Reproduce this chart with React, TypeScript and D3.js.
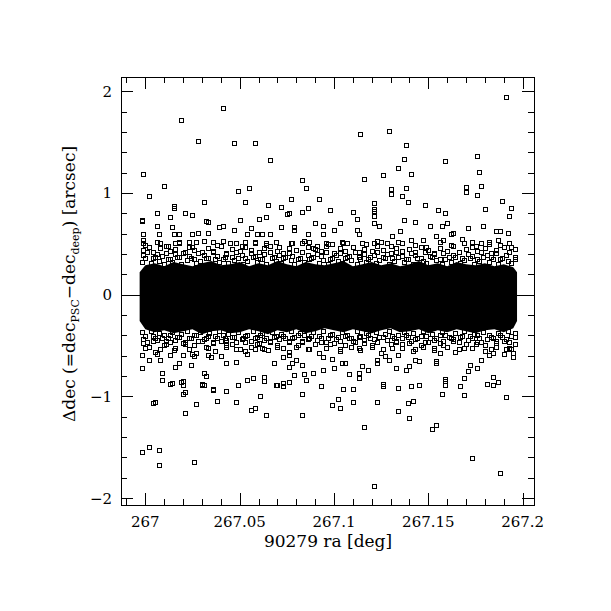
import { useMemo } from "react";
import * as d3 from "d3";

// ra is stored as offset from 267 deg in units of 0.001 deg,
// Δdec in units of 0.01 arcsec
const RA0 = 267;

// solid centre of the cloud, upper / lower edge per ra bin
const coreRa = [-3, 0, 5, 10, 15, 20, 25, 30, 35, 40, 45, 50, 55, 60, 65, 70, 75, 80, 85, 90, 95, 100, 105, 110, 115, 120, 125, 130, 135, 140, 145, 150, 155, 160, 165, 170, 175, 180, 185, 190, 195, 197];
const coreUpper = [22, 29, 31, 28, 32, 30, 28, 31, 33, 29, 30, 32, 28, 31, 29, 33, 30, 28, 32, 30, 29, 31, 33, 28, 30, 32, 29, 31, 28, 30, 33, 29, 31, 28, 32, 30, 29, 31, 28, 30, 27, 22];
const coreLower = [-26, -34, -37, -35, -38, -36, -34, -39, -36, -35, -38, -37, -34, -36, -39, -35, -37, -34, -38, -36, -33, -35, -37, -34, -36, -38, -35, -33, -37, -36, -34, -38, -35, -37, -34, -36, -38, -35, -34, -37, -33, -26];

const fringeTop: [number, number][] = [
  [-2,32],[0,36],[3,31],[5,37],[7,33],[10,30],[12,35],[14,32],[17,37],[19,30],[22,34],[24,36],[27,31],[29,33],[32,36],[34,30],[37,35],[39,32],[42,37],[44,31],[47,34],[49,36],[52,30],[54,33],[57,37],[59,32],[62,35],[64,30],[67,36],[69,33],[72,31],[74,37],[77,34],[79,30],[82,36],[84,32],[87,35],[89,37],[92,31],[94,34],[97,30],[99,36],[102,33],[104,31],[107,37],[109,34],[112,30],[114,35],[117,32],[119,37],[122,31],[124,34],[127,36],[129,30],[132,33],[134,37],[137,32],[139,35],[142,30],[144,36],[147,33],[149,31],[152,37],[154,34],[157,30],[159,35],[162,32],[164,37],[167,31],[169,34],[172,36],[174,30],[177,33],[179,37],[182,32],[184,35],[187,30],[189,36],[192,33],[194,31],[196,35],
  [-1,39],[1,42],[4,36],[6,40],[9,38],[11,41],[13,35],[16,40],[18,37],[21,42],[23,38],[26,35],[28,41],[31,39],[33,36],[36,42],[38,38],[41,35],[43,40],[46,37],[48,42],[51,39],[53,36],[56,41],[58,38],[61,35],[63,40],[66,42],[68,37],[71,39],[73,36],[76,41],[78,38],[81,35],[83,42],[86,39],[88,36],[91,40],[93,38],[96,42],[98,35],[101,39],[103,41],[106,36],[108,38],[111,42],[113,37],[116,40],[118,35],[121,39],[123,42],[126,37],[128,40],[131,36],[133,42],[136,38],[138,35],[141,41],[143,39],[146,36],[148,42],[151,38],[153,40],[156,35],[158,41],[161,37],[163,39],[166,42],[168,36],[171,40],[173,38],[176,35],[178,42],[181,39],[183,37],[186,41],[188,35],[191,39],[193,42],[196,37],
  [-1,44],[2,47],[4,42],[8,46],[11,48],[13,43],[16,45],[20,41],[23,47],[26,44],[30,42],[33,46],[36,43],[40,48],[43,41],[46,45],[50,43],[53,47],[56,44],[60,42],[63,46],[66,48],[70,43],[73,41],[76,46],[80,44],[83,42],[86,47],[90,45],[93,43],[96,48],[100,41],[103,46],[106,43],[110,47],[113,42],[116,45],[120,43],[123,48],[126,44],[130,41],[133,46],[136,43],[140,45],[143,42],[146,47],[150,44],[153,41],[156,46],[160,43],[163,48],[166,42],[170,45],[173,47],[176,43],[180,46],[183,41],[186,44],[190,47],[193,42],[196,45],
  [0,49],[6,52],[12,48],[18,51],[25,47],[31,53],[38,49],[45,51],[51,48],[58,52],[64,49],[71,47],[77,51],[84,53],[91,48],[97,50],[104,52],[110,47],[117,50],[123,53],[130,48],[136,51],[143,49],[149,47],[156,52],[162,49],[169,51],[175,48],[182,52],[188,49],[194,47],
];

const fringeBottom: [number, number][] = [
  [-2,-37],[0,-41],[3,-36],[5,-43],[7,-38],[10,-40],[12,-43],[14,-37],[17,-42],[19,-39],[22,-36],[24,-43],[27,-40],[29,-37],[32,-43],[34,-38],[37,-41],[39,-36],[42,-43],[44,-39],[47,-42],[49,-37],[52,-43],[54,-40],[57,-36],[59,-42],[62,-38],[64,-43],[67,-37],[69,-41],[72,-39],[74,-43],[77,-36],[79,-42],[82,-38],[84,-40],[87,-43],[89,-37],[92,-41],[94,-36],[97,-43],[99,-39],[102,-42],[104,-37],[107,-40],[109,-43],[112,-36],[114,-41],[117,-38],[119,-43],[122,-37],[124,-42],[127,-39],[129,-36],[132,-43],[134,-40],[137,-37],[139,-42],[142,-38],[144,-43],[147,-36],[149,-41],[152,-39],[154,-43],[157,-37],[159,-40],[162,-43],[164,-38],[167,-42],[169,-36],[172,-41],[174,-39],[177,-43],[179,-37],[182,-40],[184,-43],[187,-38],[189,-42],[192,-36],[194,-41],[196,-38],
  [-1,-44],[1,-47],[4,-41],[6,-45],[9,-43],[11,-46],[13,-40],[16,-45],[18,-42],[21,-47],[23,-43],[26,-40],[28,-46],[31,-44],[33,-41],[36,-47],[38,-43],[41,-40],[43,-45],[46,-42],[48,-47],[51,-44],[53,-41],[56,-46],[58,-43],[61,-40],[63,-45],[66,-47],[68,-42],[71,-44],[73,-41],[76,-46],[78,-43],[81,-40],[83,-47],[86,-44],[88,-41],[91,-45],[93,-43],[96,-47],[98,-40],[101,-44],[103,-46],[106,-41],[108,-43],[111,-47],[113,-42],[116,-45],[118,-40],[121,-44],[123,-47],[126,-42],[128,-45],[131,-41],[133,-47],[136,-43],[138,-40],[141,-46],[143,-44],[146,-41],[148,-47],[151,-43],[153,-45],[156,-40],[158,-46],[161,-42],[163,-44],[166,-47],[168,-41],[171,-45],[173,-43],[176,-40],[178,-47],[181,-44],[183,-42],[186,-46],[188,-40],[191,-44],[193,-47],[196,-42],
  [-1,-48],[2,-51],[4,-46],[8,-53],[11,-49],[13,-47],[16,-52],[20,-48],[23,-53],[26,-50],[30,-46],[33,-52],[36,-48],[40,-46],[43,-51],[46,-49],[50,-53],[53,-47],[56,-51],[60,-48],[63,-53],[66,-46],[70,-50],[73,-52],[76,-47],[80,-51],[83,-46],[86,-53],[90,-49],[93,-47],[96,-52],[100,-48],[103,-53],[106,-50],[110,-46],[113,-52],[116,-48],[120,-51],[123,-47],[126,-53],[130,-49],[133,-46],[136,-52],[140,-48],[143,-53],[146,-50],[150,-47],[153,-52],[156,-48],[160,-51],[163,-46],[166,-53],[170,-49],[173,-52],[176,-47],[180,-50],[183,-53],[186,-48],[190,-46],[193,-52],[196,-49],
  [0,-52],[5,-56],[10,-50],[15,-54],[21,-49],[27,-57],[32,-51],[37,-55],[43,-50],[48,-53],[54,-58],[59,-49],[65,-54],[70,-51],[76,-56],[81,-50],[87,-53],[92,-57],[98,-49],[103,-55],[109,-51],[114,-54],[120,-50],[125,-57],[131,-52],[136,-49],[142,-55],[147,-51],[153,-54],[158,-50],[164,-56],[169,-52],[175,-49],[180,-55],[186,-51],[191,-53],[195,-57],
];

const outliers: [number, number][] = [
  [-1,119],[2,97],[10,107],[19,172],[28,151],[41,184],[47,149],[58,149],[66,132],[49,102],[55,105],[83,113],[85,105],[15,87],[15,85],[31,91],[53,91],[65,88],[72,86],[77,94],[92,94],[6,80],[13,76],[21,80],[25,78],[75,79],[83,81],[86,85],[60,74],[64,76],[-2,73],[50,73],
  [191,194],[114,158],[129,161],[138,147],[137,133],[159,131],[176,136],[177,121],[134,125],[141,119],[126,118],[116,114],[130,104],[130,99],[138,105],[136,97],[139,91],[170,106],[170,101],[178,107],[176,98],[189,92],[194,85],[193,77],[180,84],[98,83],[110,81],[112,74],[121,90],[121,84],[121,82],[121,77],[148,88],[155,83],[159,80],[137,73],
  [-2,-155],[2,-150],[7,-153],[7,-168],[26,-165],[4,-107],[5,-106],[21,-116],[27,-108],[38,-105],[48,-106],[56,-113],[58,-111],[64,-118],[61,-100],[83,-98],[83,-118],[20,-98],[21,-96],[36,-94],[43,-95],[20,-89],[20,-85],[13,-88],[30,-89],[31,-89],[49,-89],[69,-89],[73,-90],[9,-84],[54,-84],[63,-85],[76,-86],[85,-84],
  [93,-90],[105,-93],[110,-93],[99,-109],[102,-103],[103,-111],[110,-106],[123,-106],[116,-130],[121,-188],[126,-88],[126,-90],[134,-92],[141,-90],[145,-89],[134,-114],[139,-107],[142,-105],[140,-121],[152,-132],[154,-128],[157,-98],[159,-89],[159,-85],[167,-90],[169,-99],[173,-161],[188,-175],[191,-101],[181,-88],[184,-89],[187,-86],
  [76,80],[-2,72],[6,68],[14,67],[32,72],[33,71],[39,67],[41,68],[47,64],[56,66],[62,60],[66,60],[72,67],[79,67],[79,64],[-1,60],[7,60],[15,60],[18,60],[25,60],[28,61],[33,61],[54,60],[59,60],[86,60],[-1,54],[-1,51],[8,51],[16,51],[18,52],[23,52],[27,52],[36,52],[41,53],[48,51],[53,52],[58,51],[64,51],[69,52],[78,51],[83,51],[87,52],
  [-2,-59],[2,-64],[-2,-72],[6,-58],[8,-64],[13,-59],[16,-71],[18,-67],[24,-69],[20,-59],[25,-58],[26,-60],[9,-77],[14,-87],[19,-86],[31,-77],[32,-80],[33,-59],[35,-61],[43,-67],[48,-66],[40,-60],[30,-88],[36,-93],[54,-84],[57,-82],[63,-81],[68,-67],[73,-61],[76,-59],[76,-71],[78,-67],[80,-64],[83,-69],[70,-89],[73,-87],[79,-79],[84,-78],[53,-55],[58,-53],[62,-52],
  [143,71],[90,70],[94,68],[94,60],[100,64],[103,70],[112,64],[113,60],[121,70],[124,68],[131,58],[135,63],[151,68],[157,68],[160,70],[163,61],[171,66],[179,68],[186,63],[188,63],[192,61],[193,51],[105,51],[107,51],[115,51],[121,51],[125,52],[128,51],[134,52],[141,54],[147,54],[154,58],[158,54],[162,60],[168,55],[173,52],[178,51],[182,50],[187,54],[96,51],[99,50],[89,46],
  [94,-74],[94,-61],[99,-63],[100,-72],[104,-67],[106,-67],[108,-78],[113,-77],[113,-82],[115,-70],[118,-74],[123,-64],[123,-67],[127,-60],[129,-64],[134,-59],[133,-72],[138,-74],[140,-70],[143,-64],[145,-65],[154,-65],[154,-67],[156,-57],[159,-83],[169,-82],[171,-75],[176,-72],[172,-69],[178,-64],[182,-59],[184,-57],[190,-58],[195,-61],[194,-53],[184,-81],[89,-77],
];

const xMajor = [267, 267.05, 267.1, 267.15, 267.2];
const xTickLabels = ["267", "267.05", "267.1", "267.15", "267.2"];
const yMajor = [-2, -1, 0, 1, 2];
const yTickLabels = ["\u22122", "\u22121", "0", "1", "2"];

const W = 611;
const H = 611;
const FONT = "'DejaVu Serif', 'Liberation Serif', serif";

export default function App() {
  const x = useMemo(() => d3.scaleLinear().domain([266.98712, 267.20599]).range([121, 534]), []);
  const y = useMemo(() => d3.scaleLinear().domain([-2.0688, 2.1406]).range([505, 77]), []);

  const [x0, x1] = x.range();
  const [y0, y1] = y.range();

  const xMinor = d3.range(266.99, 267.2055, 0.01).filter(v => !xMajor.some(m => Math.abs(m - v) < 1e-6));
  const yMinor = d3.range(-2, 2.1, 0.2).filter(v => !yMajor.some(m => Math.abs(m - v) < 1e-6));

  const core = coreRa.map((r, i) => ({ ra: RA0 + r / 1000, hi: coreUpper[i] / 100, lo: coreLower[i] / 100 }));
  const area = d3.area<{ ra: number; hi: number; lo: number }>()
    .x(d => x(d.ra))
    .y0(d => y(d.lo))
    .y1(d => y(d.hi));

  const points = [...fringeTop, ...fringeBottom, ...outliers].map(([r, d]) => ({ ra: RA0 + r / 1000, dec: d / 100 }));

  const px = (v: number) => Math.round(v) + 0.5;

  return (
    <svg width={W} height={H} style={{ position: "absolute", left: 0, top: 0, background: "#fff" }}>
      <rect x={0} y={0} width={W} height={H} fill="#fff" />

      {/* dense centre */}
      <path d={area(core) ?? ""} fill="#000" />

      {/* individual squares */}
      <g fill="none" stroke="#000" strokeWidth={1}>
        {points.map((p, i) => (
          <rect key={i} x={px(x(p.ra)) - 2} y={px(y(p.dec)) - 2} width={4} height={4} />
        ))}
      </g>

      {/* zero line */}
      <line x1={x0} x2={x1} y1={px(y(0))} y2={px(y(0))} stroke="#000" />

      {/* frame */}
      <rect x={x0 + 0.5} y={y1 + 0.5} width={x1 - x0} height={y0 - y1} fill="none" stroke="#000" />

      {/* ticks */}
      <g stroke="#000" strokeWidth={1}>
        {xMajor.map(v => (
          <g key={"xM" + v}>
            <line x1={px(x(v))} x2={px(x(v))} y1={y0} y2={y0 - 12} />
            <line x1={px(x(v))} x2={px(x(v))} y1={y1} y2={y1 + 12} />
          </g>
        ))}
        {xMinor.map(v => (
          <g key={"xm" + v}>
            <line x1={px(x(v))} x2={px(x(v))} y1={y0} y2={y0 - 6} />
            <line x1={px(x(v))} x2={px(x(v))} y1={y1} y2={y1 + 6} />
          </g>
        ))}
        {yMajor.map(v => (
          <g key={"yM" + v}>
            <line y1={px(y(v))} y2={px(y(v))} x1={x0} x2={x0 + 12} />
            <line y1={px(y(v))} y2={px(y(v))} x1={x1} x2={x1 - 12} />
          </g>
        ))}
        {yMinor.map(v => (
          <g key={"ym" + v}>
            <line y1={px(y(v))} y2={px(y(v))} x1={x0} x2={x0 + 6} />
            <line y1={px(y(v))} y2={px(y(v))} x1={x1} x2={x1 - 6} />
          </g>
        ))}
      </g>

      {/* tick labels */}
      <g fontFamily={FONT} fontSize={15} fill="#000">
        {xMajor.map((v, i) => (
          <text key={"xl" + v} x={x(v)} y={527} textAnchor="middle">{xTickLabels[i]}</text>
        ))}
        {yMajor.map((v, i) => (
          <text key={"yl" + v} x={112} y={y(v) + 5.5} textAnchor="end">{yTickLabels[i]}</text>
        ))}
      </g>

      {/* axis titles */}
      <text x={328} y={547} textAnchor="middle" fontFamily={FONT} fontSize={17}>90279 ra [deg]</text>
      <text transform="translate(75,284) rotate(-90)" textAnchor="middle" fontFamily={FONT} fontSize={17}>
        <tspan>{"\u0394dec (=dec"}</tspan>
        <tspan fontSize={11} dy={4}>PSC</tspan>
        <tspan dy={-4}>{"\u2212dec"}</tspan>
        <tspan fontSize={11} dy={4}>deep</tspan>
        <tspan dy={-4}>{") [arcsec]"}</tspan>
      </text>
    </svg>
  );
}
